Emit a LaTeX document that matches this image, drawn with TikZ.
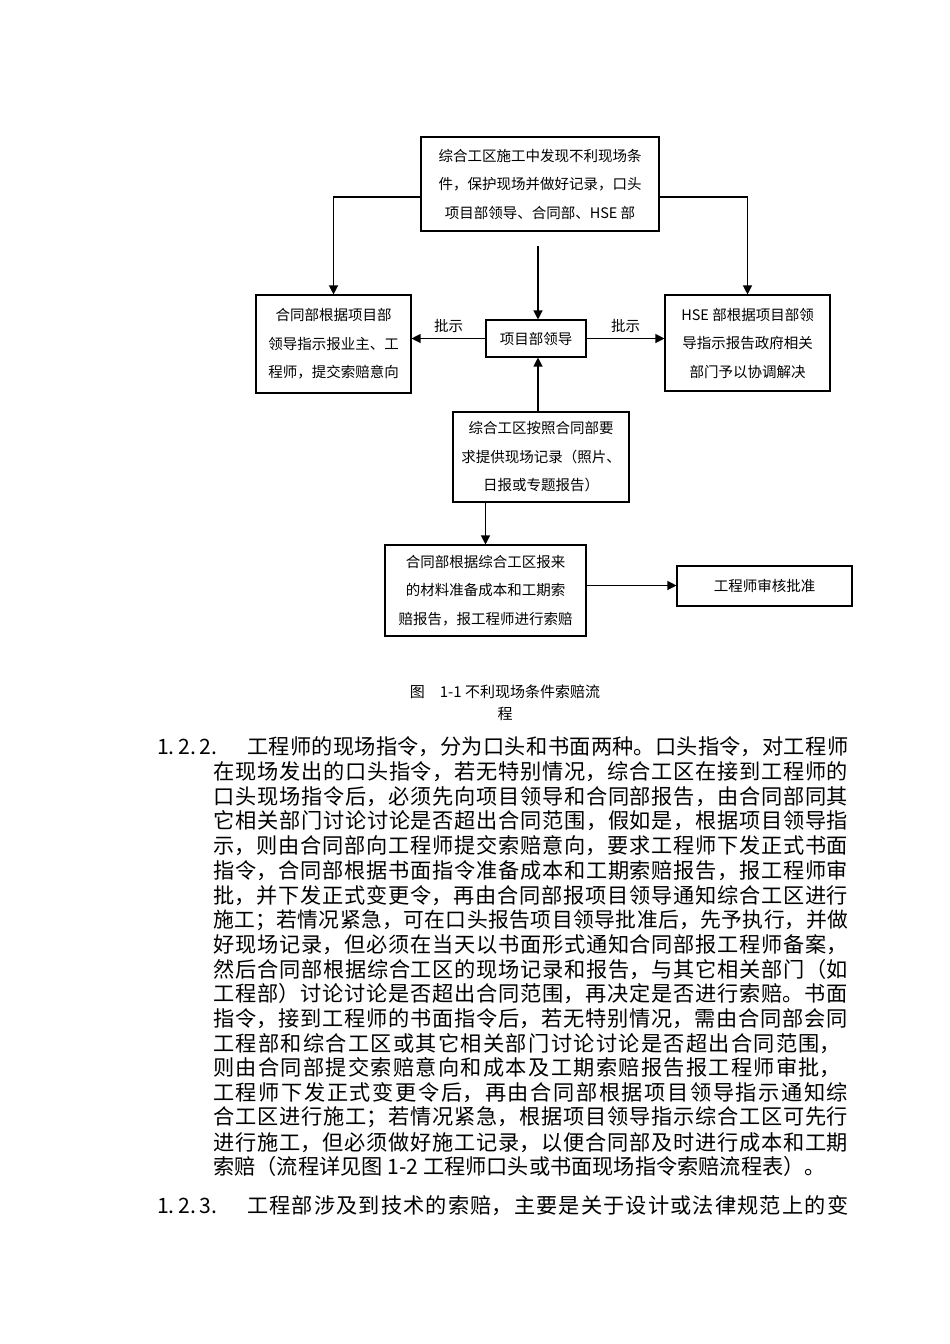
\documentclass[tikz,border=0pt]{standalone}
\usepackage{fontspec}
\setmainfont{Noto Sans CJK SC}
\usetikzlibrary{arrows.meta,calc}
\newcommand\jlx[3]{\parbox{#1}{\fontsize{#3}{24}\selectfont\XeTeXlinebreaklocale "zh"\XeTeXlinebreakskip=0pt plus 1fil\tolerance=10000\parfillskip=0pt\noindent #2}}
\newcommand\jl[2]{\jlx{#1}{#2}{21.2}}
\newcommand\nl[1]{{\fontsize{21.2}{24}\selectfont #1}}
\begin{document}
\begin{tikzpicture}[x=1pt,y=-1pt,
  box/.style={draw, line width=1.1pt, align=center, inner sep=0pt, font=\fontsize{14.5}{28.5}\selectfont},
  arr/.style={line width=1.2pt, -{Triangle[length=9pt,width=9pt]}},
  lbl/.style={font=\fontsize{14.5}{16}\selectfont, inner sep=0pt},
  body/.style={anchor=west, inner sep=0pt},
  captxt/.style={font=\fontsize{15}{16}\selectfont, inner sep=0pt}]
\fill[white] (0,0) rectangle (950,1344);
\useasboundingbox (0,0) rectangle (950,1344);

% diagram boxes
\node[box, minimum width=238pt, minimum height=94pt] (top) at (540,184) {综合工区施工中发现不利现场条\\件，保护现场并做好记录，口头\\项目部领导、合同部、HSE 部};
\node[box, minimum width=155pt, minimum height=98pt] (left) at (333.5,344) {合同部根据项目部\\领导指示报业主、工\\程师，提交索赔意向};
\node[box, minimum width=100pt, minimum height=37pt] (ctr) at (536,338.5) {项目部领导};
\node[box, minimum width=165pt, minimum height=96pt] (right) at (747.5,343) {HSE 部根据项目部领\\导指示报告政府相关\\部门予以协调解决};
\node[box, minimum width=176pt, minimum height=90pt] (mid) at (541,457) {综合工区按照合同部要\\求提供现场记录（照片、\\日报或专题报告）};
\node[box, minimum width=201pt, minimum height=91pt] (lower) at (485.5,590.5) {合同部根据综合工区报来\\的材料准备成本和工期索\\赔报告，报工程师进行索赔};
\node[box, minimum width=175pt, minimum height=40pt] (final) at (764.5,586) {工程师审核批准};

% connectors
\draw[arr] ([yshift=-13pt]top.west) -| (left.north);
\draw[arr] ([yshift=-13pt]top.east) -| (right.north);
\coordinate (vs) at (538,246);
\draw[arr] (vs) -- (vs |- ctr.north);
\draw[arr] (ctr.west) -- (ctr.west -| left.east) node[lbl, midway, above=5pt] {批示};
\draw[arr] (ctr.east) -- (ctr.east -| right.west) node[lbl, midway, above=5pt] {批示};
\draw[arr] (vs |- mid.north) -- (vs |- ctr.south);
\draw[arr] (lower.north |- mid.south) -- (lower.north);
\draw[arr] ([yshift=5pt]lower.east) -- ([yshift=5pt]lower.east -| final.west);

% caption
\node[captxt] (cap1) at (505,692) {图\hspace{15pt}1-1 不利现场条件索赔流};
\node[captxt] (cap2) at (505,714) {程};

% body text
\node[body] (n1) at (157,747) {\nl{1.\,2.\,2.}};
\node[body] (l1) at (247,747) {\jl{601pt}{工程师的现场指令，分为口头和书面两种。口头指令，对工程师}};
\node[body] (l2) at (213,771.7) {\jl{635pt}{在现场发出的口头指令，若无特别情况，综合工区在接到工程师的}};
\node[body] (l3) at (213,796.4) {\jl{635pt}{口头现场指令后，必须先向项目领导和合同部报告，由合同部同其}};
\node[body] (l4) at (213,821.1) {\jl{635pt}{它相关部门讨论讨论是否超出合同范围，假如是，根据项目领导指}};
\node[body] (l5) at (213,845.8) {\jl{635pt}{示，则由合同部向工程师提交索赔意向，要求工程师下发正式书面}};
\node[body] (l6) at (213,870.5) {\jl{635pt}{指令，合同部根据书面指令准备成本和工期索赔报告，报工程师审}};
\node[body] (l7) at (213,895.2) {\jl{635pt}{批，并下发正式变更令，再由合同部报项目领导通知综合工区进行}};
\node[body] (l8) at (213,919.9) {\jlx{635pt}{施工；若情况紧急，可在口头报告项目领导批准后，先予执行，并做}{20.8}};
\node[body] (l9) at (213,944.6) {\jl{635pt}{好现场记录，但必须在当天以书面形式通知合同部报工程师备案，}};
\node[body] (l10) at (213,969.3) {\jl{635pt}{然后合同部根据综合工区的现场记录和报告，与其它相关部门（如}};
\node[body] (l11) at (213,994) {\jl{635pt}{工程部）讨论讨论是否超出合同范围，再决定是否进行索赔。书面}};
\node[body] (l12) at (213,1018.7) {\jl{635pt}{指令，接到工程师的书面指令后，若无特别情况，需由合同部会同}};
\node[body] (l13) at (213,1043.4) {\jl{628pt}{工程部和综合工区或其它相关部门讨论讨论是否超出合同范围，}};
\node[body] (l14) at (213,1068.1) {\jl{628pt}{则由合同部提交索赔意向和成本及工期索赔报告报工程师审批，}};
\node[body] (l15) at (213,1092.8) {\jl{635pt}{工程师下发正式变更令后，再由合同部根据项目领导指示通知综}};
\node[body] (l16) at (213,1117.5) {\jl{635pt}{合工区进行施工；若情况紧急，根据项目领导指示综合工区可先行}};
\node[body] (l17) at (213,1142.2) {\jl{635pt}{进行施工，但必须做好施工记录，以便合同部及时进行成本和工期}};
\node[body] (l18) at (213,1166.9) {\nl{索赔（流程详见图 1-2 工程师口头或书面现场指令索赔流程表）。}};
\node[body] (n2) at (157,1206) {\nl{1.\,2.\,3.}};
\node[body] (m1) at (247,1206) {\jl{601pt}{工程部涉及到技术的索赔，主要是关于设计或法律规范上的变}};
\end{tikzpicture}
\end{document}
